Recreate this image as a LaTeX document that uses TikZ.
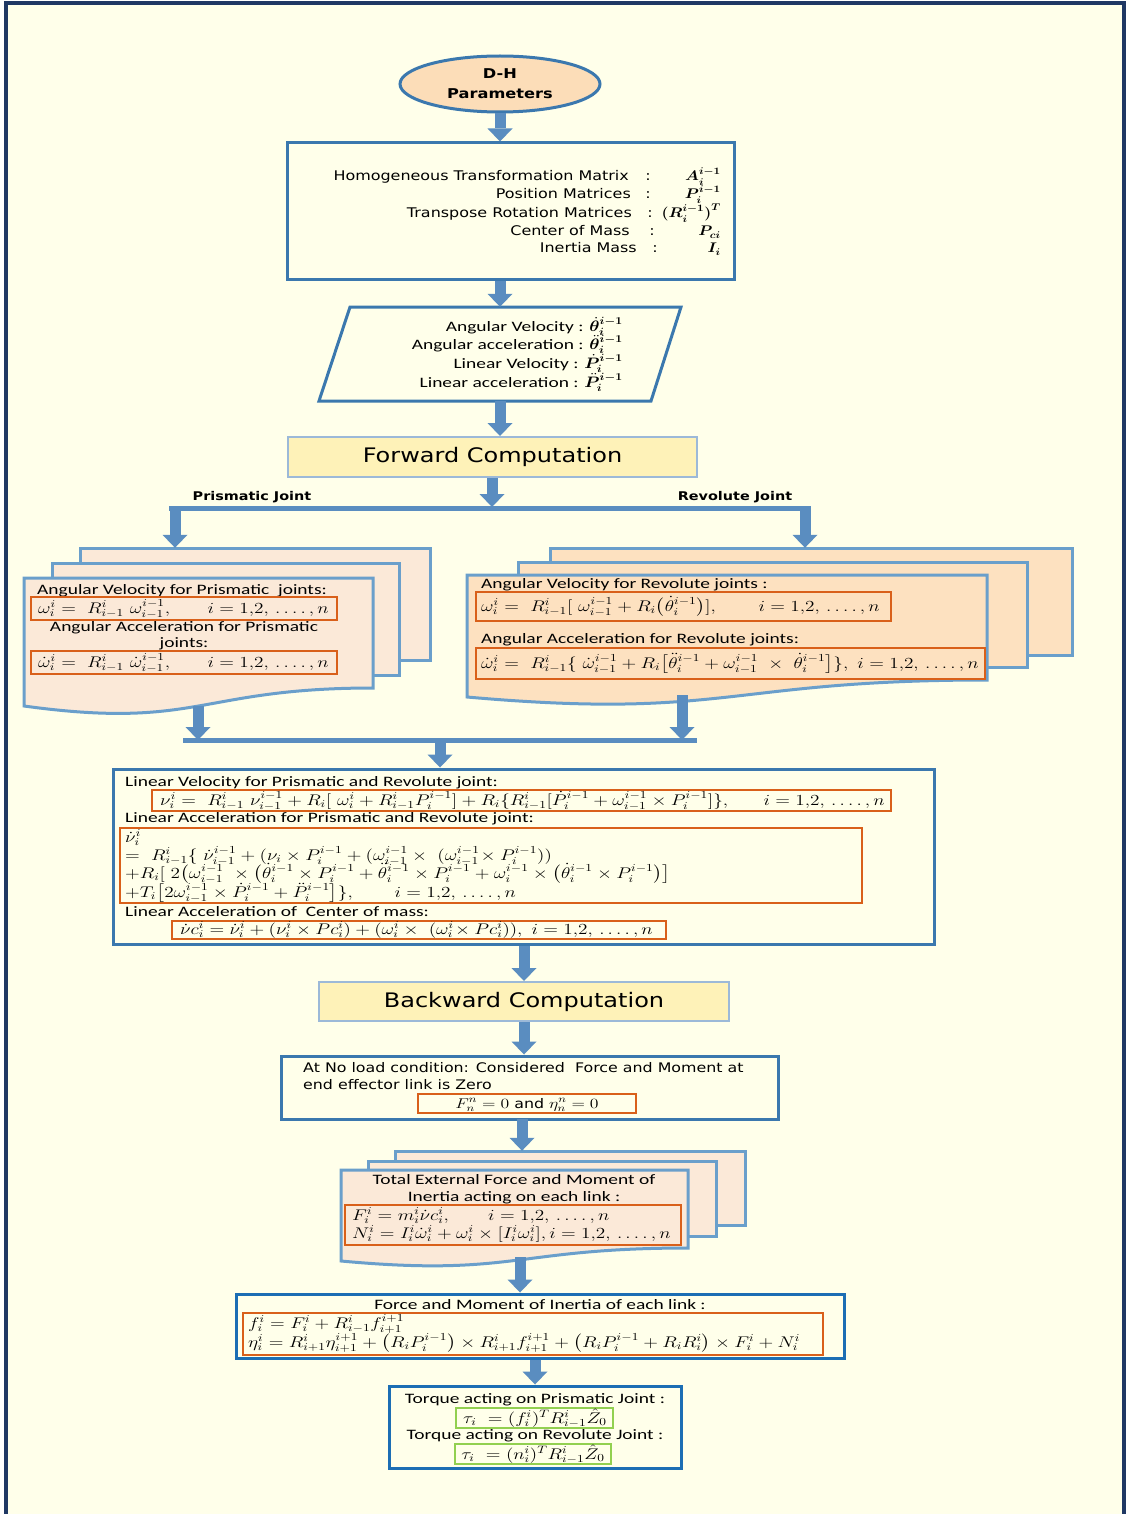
\RequirePackage{fix-cm}
\documentclass[tikz,border=0pt]{standalone}
\usepackage{amsmath,amssymb,bm}
\usepackage{graphicx}
\usepackage{fontspec}
\usetikzlibrary{arrows.meta,shapes.geometric,calc}
\newfontfamily\vd[FakeStretch=1.2]{DejaVu Sans}
\newfontfamily\cb[FakeStretch=1.35]{Carlito}
\newcommand\mx[1]{\scalebox{1.34}[1.07]{$#1$}}
\newcommand\mb[1]{\scalebox{1.2}[1.05]{$#1$}}
\newcommand\idx{i = 1{,}2,\,.\,.\,.\,.\,,n}
\newcommand\cbt{\cb\fontsize{14.4}{18}\selectfont}
\newcommand\vdt{\vd\fontsize{13.3}{18}\selectfont}
\newcommand\vdh{\vd\fontsize{20}{24}\selectfont}
\newcommand\vdb{\vd\bfseries\fontsize{12}{14}\selectfont}
\newcommand\vdbb{\vd\bfseries\fontsize{13.5}{20}\selectfont}
\definecolor{bg}{HTML}{FFFFEA}
\definecolor{framec}{HTML}{1F3864}
\definecolor{boxblue}{HTML}{3B78AE}
\definecolor{docblue}{HTML}{6A9FCB}
\definecolor{strongblue}{HTML}{1C6EB4}
\definecolor{arrblue}{HTML}{5A8DC0}
\definecolor{peach}{HTML}{FCDDB8}
\definecolor{docfill}{HTML}{FBE9D8}
\definecolor{docfillR}{HTML}{FDE1C0}
\definecolor{compfill}{HTML}{FEF2B8}
\definecolor{compline}{HTML}{9CB9D8}
\definecolor{orng}{HTML}{D9601A}
\definecolor{grn}{HTML}{92D050}
\begin{document}
\begin{tikzpicture}[x=1pt,y=-1pt,
  box/.style={draw=boxblue, line width=3pt, fill=bg, inner sep=0pt},
  sbox/.style={draw=strongblue, line width=3pt, fill=bg, inner sep=0pt},
  comp/.style={draw=compline, line width=2pt, fill=compfill, inner sep=0pt, font=\vdh},
  doc/.style={draw=docblue, line width=3pt, fill=docfill},
  docR/.style={draw=docblue, line width=3pt, fill=docfillR},
  obox/.style={draw=orng, line width=2.5pt},
  gbox/.style={draw=grn, line width=2.5pt},
  arr/.style={draw=arrblue, line width=11pt, -{Triangle[width=25pt,length=13pt,line width=0pt]}},
  barl/.style={draw=arrblue, line width=5pt},
  tx/.style={inner sep=0pt, font=\cbt},
  vt/.style={inner sep=0pt, font=\vdt},
  hold/.style={inner sep=0pt, draw=none}]
\useasboundingbox (0,0) rectangle (1128,1514);
\fill[white] (0,0) rectangle (1128,1514);
\fill[bg] (6,3) rectangle (1124,1514);
\draw[framec, line width=4pt] (6,1516) -- (6,3) -- (1124,3) -- (1124,1516);

% D-H ellipse
\node[ellipse, draw=boxblue, line width=3pt, fill=peach, minimum width=200pt, minimum height=56pt, inner sep=0pt, align=center, font=\vdbb] (dh) at (500,84) {D-H\\Parameters};

% HTM box
\node[box, minimum width=447pt, minimum height=136pt] (htm) at (510.5,211) {};
\node[vt, anchor=base east] at (629,181) {Homogeneous Transformation Matrix};
\node[vt, anchor=base] at (648,181) {:};
\node[vt, anchor=base east] at (721,181) {\mb{\bm{A_i^{i-1}}}};
\node[vt, anchor=base east] at (631,199) {Position Matrices};
\node[vt, anchor=base] at (648,199) {:};
\node[vt, anchor=base east] at (721,199) {\mb{\bm{P_i^{i-1}}}};
\node[vt, anchor=base east] at (632,218) {Transpose Rotation Matrices};
\node[vt, anchor=base] at (650,218) {:};
\node[vt, anchor=base east] at (721,218) {\mb{\bm{(R_i^{i-1})^T}}};
\node[vt, anchor=base east] at (630,236) {Center of Mass};
\node[vt, anchor=base] at (652,236) {:};
\node[vt, anchor=base east] at (721,236) {\mb{\bm{P_{ci}}}};
\node[vt, anchor=base east] at (637,253) {Inertia Mass};
\node[vt, anchor=base] at (655,253) {:};
\node[vt, anchor=base east] at (721,253) {\mb{\bm{I_i}}};

% parallelogram
\node[hold, minimum width=362pt, minimum height=94pt] (par) at (500,354) {};
\draw[box] (350,307) -- (681,307) -- (651,401) -- (319,401) -- cycle;
\node[tx, anchor=base east] at (623,331) {Angular Velocity : \mb{\bm{\dot\theta_i^{i-1}}}};
\node[tx, anchor=base east] at (623,349) {Angular acceleration : \mb{\bm{\ddot\theta_i^{i-1}}}};
\node[tx, anchor=base east] at (623,368) {Linear Velocity : \mb{\bm{\dot P_i^{i-1}}}};
\node[tx, anchor=base east] at (623,387) {Linear acceleration : \mb{\bm{\ddot P_i^{i-1}}}};

% Forward computation
\node[comp, minimum width=409pt, minimum height=40pt] (fwd) at (492.5,457) {Forward Computation};
\node[inner sep=0pt, font=\vdb] at (252,497) {Prismatic Joint};
\node[inner sep=0pt, font=\vdb] at (735,497) {Revolute Joint};
\coordinate (b1) at (492,507);
\coordinate (b1p) at (175,508);
\coordinate (b1r) at (805,508);

% prismatic documents
\node[hold, minimum width=406pt, minimum height=168pt] (pdoc) at (227,632) {};
\draw[doc] (80,548) rectangle (430,660);
\draw[doc] (52,563) rectangle (399,675);
\draw[doc] (24,578) -- (373,578) -- (373,688) .. controls (198.5,688) and (198.5,730) .. (24,706) -- cycle;
\node[tx, anchor=base west] at (37,594) {Angular Velocity for Prismatic~ joints:};
\draw[obox] (31,597) rectangle (337,620);
\node[tx, anchor=base west] at (38,613) {\mx{\omega_i^i =\ R_{i-1}^i\ \omega_{i-1}^{i-1},}};
\node[tx, anchor=base east] at (329,613) {\mx{\idx}};
\node[tx, anchor=base] at (184,631) {Angular Acceleration for Prismatic};
\node[tx, anchor=base] at (184,647) {joints:};
\draw[obox] (31,651) rectangle (337,674);
\node[tx, anchor=base west] at (38,667) {\mx{\dot\omega_i^i =\ R_{i-1}^i\ \dot\omega_{i-1}^{i-1},}};
\node[tx, anchor=base east] at (329,667) {\mx{\idx}};

% revolute documents
\node[hold, minimum width=605pt, minimum height=157pt] (rdoc) at (769.5,626.5) {};
\draw[docR] (550,548) rectangle (1072,655);
\draw[docR] (518,562) rectangle (1027,667);
\draw[docR] (467,575) -- (987,575) -- (987,680) .. controls (727,680) and (727,720) .. (467,697) -- cycle;
\node[tx, anchor=base west] at (481,588) {Angular Velocity for Revolute joints :};
\draw[obox] (476,592) rectangle (891,621);
\node[tx, anchor=base west] at (481,611) {\mx{\omega_i^i =\ R_{i-1}^i[\ \omega_{i-1}^{i-1} + R_i\bigl(\dot\theta_i^{i-1}\bigr)],}};
\node[tx, anchor=base east] at (880,611) {\mx{\idx}};
\node[tx, anchor=base west] at (481,643) {Angular Acceleration for Revolute joints:};
\draw[obox] (476,648) rectangle (985,679);
\node[tx, anchor=base west] at (481,668) {\mx{\dot\omega_i^i =\ R_{i-1}^i\{\ \dot\omega_{i-1}^{i-1} + R_i\bigl[\ddot\theta_i^{i-1} + \omega_{i-1}^{i-1}\ \times\ \dot\theta_i^{i-1}\bigr]\},\ \idx}};

\coordinate (pbot) at (198,706);
\coordinate (rbot) at (682,695);
\coordinate (b2l) at (183,740);
\coordinate (b2r) at (697,740);
\coordinate (b2c) at (440,740);

% linear box
\node[box, minimum width=821pt, minimum height=175pt] (lin) at (523.5,856.5) {};
\node[tx, anchor=base west] at (125,786) {Linear Velocity for Prismatic and Revolute joint:};
\draw[obox] (152,790) rectangle (891,811);
\node[tx, anchor=base west] at (160,805) {\mx{\nu_i^i =\ R_{i-1}^i\ \nu_{i-1}^{i-1} + R_i[\ \omega_i^i + R_{i-1}^iP_i^{i-1}] + R_i\{R_{i-1}^i[\dot P_i^{i-1} + \omega_{i-1}^{i-1}\times P_i^{i-1}]\},}};
\node[tx, anchor=base east] at (885,805) {\mx{\idx}};
\node[tx, anchor=base west] at (125,822) {Linear Acceleration for Prismatic and Revolute joint:};
\draw[obox] (120,828) rectangle (862,903);
\node[tx, anchor=base west] at (125,842) {\mx{\dot\nu_i^i}};
\node[tx, anchor=base west] at (125,860) {\mx{=\ R_{i-1}^i\{\ \dot\nu_{i-1}^{i-1} + (\nu_i\times P_i^{i-1} + (\omega_{i-1}^{i-1}\times\ (\omega_{i-1}^{i-1}\!\times P_i^{i-1}))}};
\node[tx, anchor=base west] at (125,878) {\mx{+ R_i[\ 2\bigl(\omega_{i-1}^{i-1}\ \times\bigl(\dot\theta_i^{i-1}\times P_i^{i-1} + \ddot\theta_i^{i-1}\times P_i^{i-1} + \omega_i^{i-1}\times\bigl(\dot\theta_i^{i-1}\times P_i^{i-1}\bigr)\bigr]}};
\node[tx, anchor=base west] at (125,897) {\mx{+ T_i\bigl[2\omega_{i-1}^{i-1}\times\dot P_i^{i-1} + \ddot P_i^{i-1}\bigr]\},\qquad \idx}};
\node[tx, anchor=base west] at (125,916) {Linear Acceleration of~ Center of mass:};
\draw[obox] (172,921) rectangle (666,939);
\node[tx, anchor=base west] at (180,934) {\mx{\dot\nu c_i^i = \dot\nu_i^i + (\nu_i^i\times Pc_i^i) + (\omega_i^i\times\ (\omega_i^i\!\times Pc_i^i)),\ \idx}};

% backward
\node[comp, minimum width=410pt, minimum height=39pt] (bwd) at (524,1001.5) {Backward Computation};

% no load
\node[box, minimum width=497pt, minimum height=63pt] (nol) at (529.5,1087.5) {};
\node[inner sep=0pt, font=\vd\fontsize{13.2}{16}\selectfont, anchor=base west] at (303,1072) {At No load condition: Considered~ Force and Moment at};
\node[inner sep=0pt, font=\vd\fontsize{13.2}{16}\selectfont, anchor=base west] at (303,1089) {end effector link is Zero};
\draw[obox] (418,1094) rectangle (636,1113);
\node[inner sep=0pt, font=\vd\fontsize{13.2}{16}\selectfont, anchor=base] at (527,1108) {\mx{F_n^n = 0}\ and\ \mx{\eta_n^n = 0}};
\coordinate (nolo) at (522,1119);

% total external docs
\node[hold, minimum width=404pt, minimum height=117pt] (tdoc) at (543,1209.5) {};
\draw[doc] (395,1151) rectangle (745,1225);
\draw[doc] (368,1161) rectangle (716,1236);
\draw[doc] (341,1170) -- (688,1170) -- (688,1248) .. controls (514.5,1248) and (514.5,1277) .. (341,1261) -- cycle;
\node[tx, anchor=base] at (514,1184) {Total External Force and Moment of};
\node[tx, anchor=base] at (514,1201) {Inertia acting on each link :};
\draw[obox] (345,1205) rectangle (681,1245);
\node[tx, anchor=base west] at (352,1220) {\mx{F_i^i = m_i^i\dot\nu c_i^i,}};
\node[tx, anchor=base west] at (488,1220) {\mx{\idx}};
\node[tx, anchor=base west] at (352,1238) {\mx{N_i^i = I_i^i\dot\omega_i^i + \omega_i^i\times[I_i^i\omega_i^i], \idx}};
\coordinate (tbot) at (520,1257);

% force box
\node[sbox, minimum width=608pt, minimum height=64pt] (frc) at (540,1326) {};
\node[tx, anchor=base] at (540,1309) {Force and Moment of Inertia of each link :};
\draw[obox] (243,1313) rectangle (823,1355);
\node[tx, anchor=base west] at (248,1328) {\mx{f_i^i = F_i^i + R_{i-1}^i f_{i+1}^{i+1}}};
\node[tx, anchor=base west] at (248,1347) {\mx{\eta_i^i = R_{i+1}^i\eta_{i+1}^{i+1} + \bigl(R_iP_i^{i-1}\bigr)\times R_{i+1}^i f_{i+1}^{i+1} + \bigl(R_iP_i^{i-1} + R_iR_i^i\bigr)\times F_i^i + N_i^i}};

% torque box
\node[sbox, minimum width=292pt, minimum height=82pt] (trq) at (535,1427) {};
\node[tx, anchor=base] at (535,1403) {Torque acting on Prismatic Joint :};
\draw[gbox] (456,1408) rectangle (613,1428);
\node[tx, anchor=base] at (535,1423) {\mx{\tau_i\ = (f_i^i)^T R_{i-1}^i\hat Z_0}};
\node[tx, anchor=base] at (535,1439) {Torque acting on Revolute Joint :};
\draw[gbox] (455,1444) rectangle (611,1464);
\node[tx, anchor=base] at (533,1459) {\mx{\tau_i\ = (n_i^i)^T R_{i-1}^i\hat Z_0}};

% connectors
\draw[arr] (dh.south) -- (dh.south |- htm.north);
\draw[arr] (dh.south |- htm.south) -- (par.north);
\draw[arr] (par.south) -- (par.south |- fwd.north);
\draw[arr] (fwd.south -| b1) -- (b1);
\draw[barl] (169,508) -- (811,508);
\draw[arr] (b1p) -- (b1p |- pdoc.north);
\draw[arr] (b1r) -- (b1r |- rdoc.north);
\draw[arr] (pbot) -- (pbot |- b2l);
\draw[arr] (rbot) -- (rbot |- b2r);
\draw[barl] (b2l) -- (b2r);
\draw[arr] (b2c) -- (b2c |- lin.north);
\draw[arr] (lin.south -| bwd.north) -- (bwd.north);
\draw[arr] (bwd.south) -- (bwd.south |- nol.north);
\draw[arr] (nolo) -- (nolo |- tdoc.north);
\draw[arr] (tbot) -- (tbot |- frc.north);
\draw[arr] (trq.north |- frc.south) -- (trq.north);
\end{tikzpicture}
\end{document}
